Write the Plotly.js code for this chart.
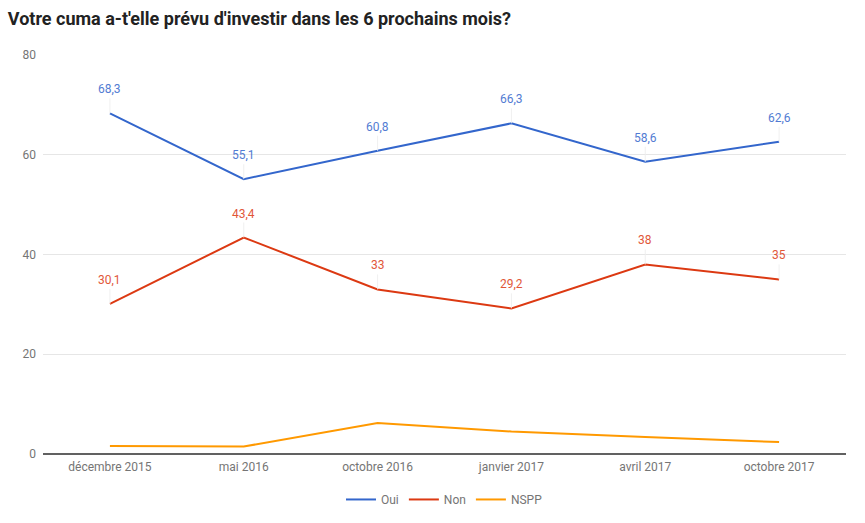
<!DOCTYPE html>
<html>
<head>
<meta charset="utf-8">
<script src="https://cdn.plot.ly/plotly-3.0.1.min.js"></script>
<style>html,body{margin:0;padding:0;background:#fff;}#chart{width:865px;height:523px;}</style>
</head>
<body>
<div id="chart"></div>
<script>
const categories = ["décembre 2015", "mai 2016", "octobre 2016", "janvier 2017", "avril 2017", "octobre 2017"];
const oui = [68.3, 55.1, 60.8, 66.3, 58.6, 62.6];
const non = [30.1, 43.4, 33, 29.2, 38, 35];
const nspp = [1.6, 1.5, 6.2, 4.5, 3.4, 2.4];
const seriesNames = ["Oui", "Non", "NSPP"];
const colors = ["#3366cc", "#dc3912", "#ff9900"];
const yTicks = [0, 20, 40, 60, 80];

const allSeries = [oui, non, nspp];
const traces = allSeries.map((vals, i) => ({
  type: "scatter",
  mode: "lines",
  name: seriesNames[i],
  x: categories,
  y: vals,
  line: {color: colors[i], width: 2},
  hoverinfo: "x+y+name"
}));

const fmt = v => String(v).replace(".", ",");
const annotations = [];
[oui, non].forEach((vals, i) => {
  vals.forEach((v, j) => {
    annotations.push({
      x: categories[j], y: v, xref: "x", yref: "y",
      text: fmt(v),
      showarrow: true, arrowhead: 0, arrowwidth: 1, arrowcolor: "#eeeeee",
      ax: 0, ay: -15, standoff: 0,
      font: {family: "Roboto, sans-serif", size: 12, color: colors[i]},
      opacity: 0.85,
      yanchor: "bottom"
    });
  });
});

const layout = {
  width: 865, height: 523,
  margin: {l: 43, r: 19, t: 55, b: 69, autoexpand: false},
  paper_bgcolor: "#ffffff", plot_bgcolor: "#ffffff",
  separators: ", ",
  font: {family: "Roboto, sans-serif", size: 12, color: "#757575"},
  title: {
    text: "<b>Votre cuma a-t'elle prévu d'investir dans les 6 prochains mois?</b>",
    x: 0.009, xanchor: "left", y: 0.965, yanchor: "middle",
    font: {family: "Roboto, sans-serif", size: 18, color: "#222222"}
  },
  xaxis: {
    type: "category", range: [-0.5, 5.5], automargin: false,
    showgrid: false, zeroline: false, showline: false,
    ticks: "", ticklabelstandoff: 4, tickfont: {size: 12, color: "#757575"},
    fixedrange: true
  },
  yaxis: {
    range: [0, 80], tickvals: yTicks, ticktext: yTicks.map(String), automargin: false,
    showgrid: true, gridcolor: "#e6e6e6", gridwidth: 1,
    zeroline: true, zerolinecolor: "#616161", zerolinewidth: 1.5,
    showline: false, ticks: "", ticklabelstandoff: 6,
    tickfont: {size: 12, color: "#757575"},
    fixedrange: true
  },
  showlegend: true,
  legend: {
    orientation: "h", x: 0.5, xanchor: "center",
    yref: "container", y: 0.045, yanchor: "middle",
    font: {size: 12, color: "#757575"}, itemwidth: 30, tracegroupgap: 0
  },
  annotations: annotations
};

Plotly.newPlot("chart", traces, layout, {displayModeBar: false, staticPlot: true});
</script>
</body>
</html>
